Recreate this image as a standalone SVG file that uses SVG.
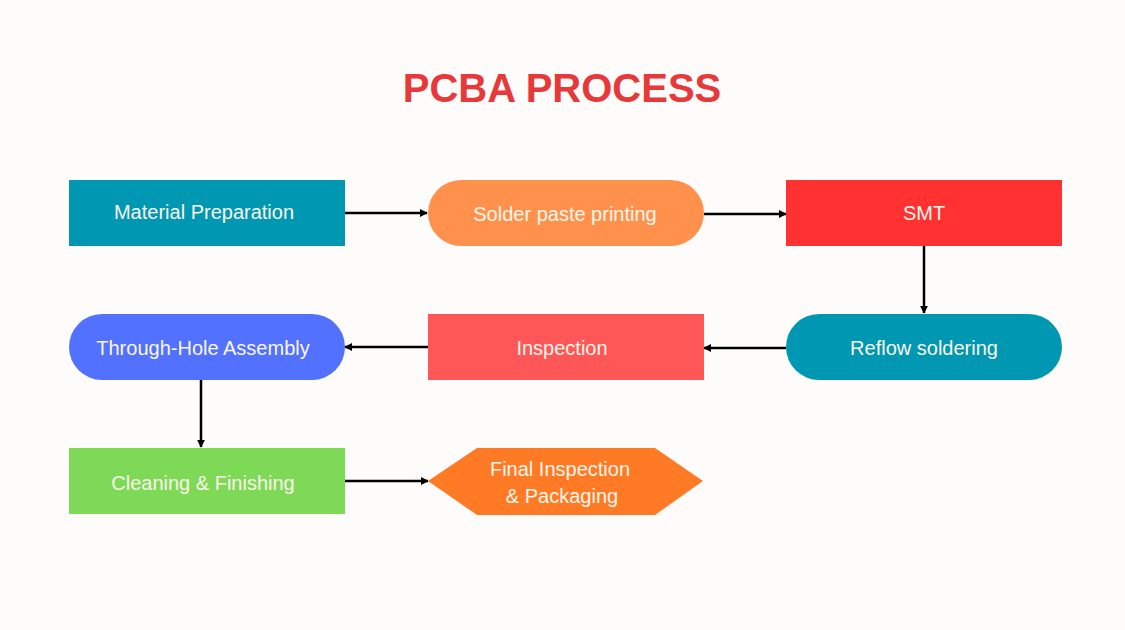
<svg xmlns="http://www.w3.org/2000/svg" width="1125" height="630" viewBox="0 0 1125 630">
<defs>
<marker id="ah" viewBox="0 0 10 10" refX="9" refY="5" markerWidth="8" markerHeight="8" markerUnits="userSpaceOnUse" orient="auto"><path d="M0,0 L10,5 L0,10 Z" fill="#000"/></marker>
<style>
.t{font-family:"Liberation Sans",Arial,sans-serif;font-size:20px;fill:#fbf6ea;text-anchor:middle;dominant-baseline:central}
.c{stroke:#000;stroke-width:2.5;fill:none;marker-end:url(#ah)}
</style>
</defs>
<rect width="1125" height="630" fill="#fdfcfa"/>
<text x="562" y="88" style="font-family:'Liberation Sans',Arial,sans-serif;font-size:40px;font-weight:bold;fill:#e8393a;text-anchor:middle;dominant-baseline:central">PCBA PROCESS</text>
<g id="connectors">
<line class="c" x1="345" y1="213" x2="427" y2="213"/>
<line class="c" x1="704" y1="214" x2="786" y2="214"/>
<line class="c" x1="924" y1="246" x2="924" y2="313"/>
<line class="c" x1="786" y1="348" x2="704" y2="348"/>
<line class="c" x1="428" y1="347" x2="345" y2="347"/>
<line class="c" x1="201" y1="380" x2="201" y2="447"/>
<line class="c" x1="345" y1="481" x2="428" y2="481"/>
</g>
<g id="n1"><rect x="69" y="180" width="276" height="66" fill="#0097b2"/><text class="t" x="204" y="212">Material Preparation</text></g>
<g id="n2"><rect x="428" y="180" width="276" height="66" rx="33" fill="#ff914d"/><text class="t" x="565" y="214">Solder paste printing</text></g>
<g id="n3"><rect x="786" y="180" width="276" height="66" fill="#ff3131"/><text class="t" x="924" y="213">SMT</text></g>
<g id="n4"><rect x="786" y="314" width="276" height="66" rx="33" fill="#0097b2"/><text class="t" x="924" y="348">Reflow soldering</text></g>
<g id="n5"><rect x="428" y="314" width="276" height="66" fill="#ff5757"/><text class="t" x="562" y="348">Inspection</text></g>
<g id="n6"><rect x="69" y="314" width="276" height="66" rx="33" fill="#5271ff"/><text class="t" x="203" y="348">Through-Hole Assembly</text></g>
<g id="n7"><rect x="69" y="448" width="276" height="66" fill="#7ed957"/><text class="t" x="203" y="483">Cleaning &amp; Finishing</text></g>
<g id="n8"><polygon points="428,481 477,448 655,448 703,481 655,515 477,515" fill="#ff7a25"/><text class="t" x="560" y="469">Final Inspection</text><text class="t" x="562" y="496">&amp; Packaging</text></g>
</svg>
